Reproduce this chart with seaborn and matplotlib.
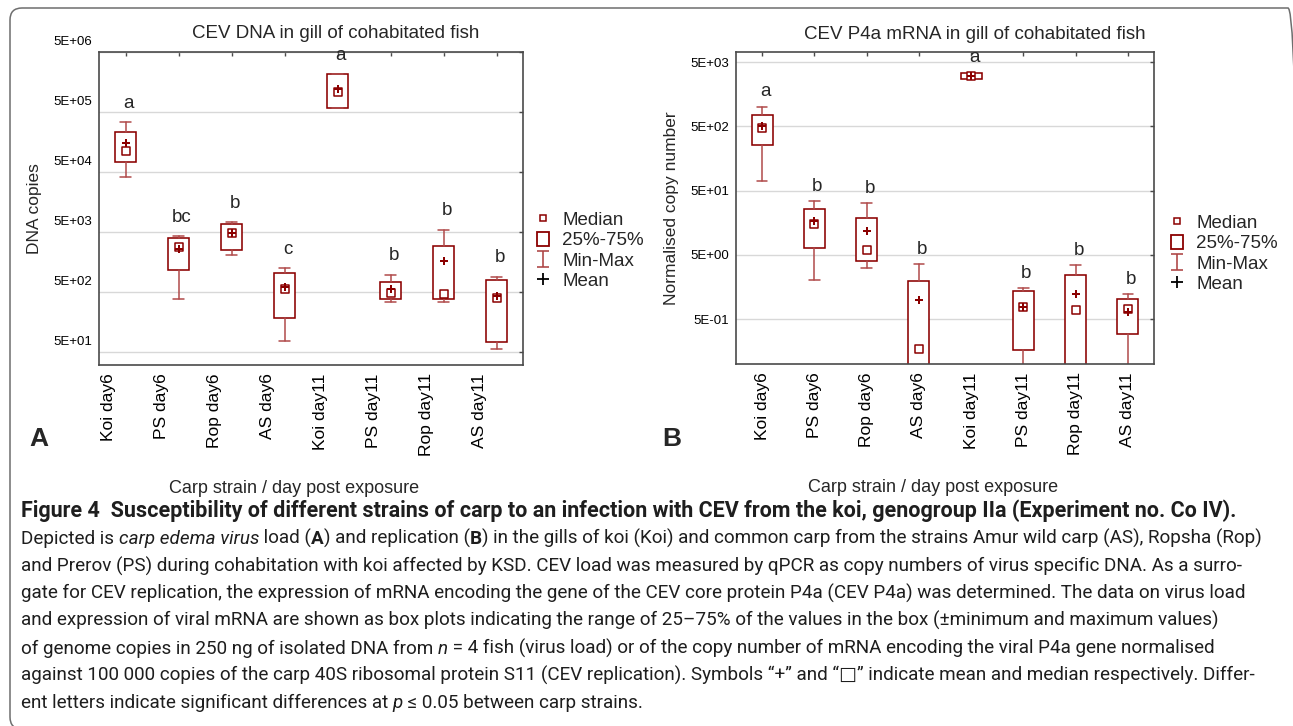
import numpy as np
import pandas as pd
import matplotlib
matplotlib.use('Agg')
import matplotlib.pyplot as plt
import matplotlib.transforms as mtransforms
import seaborn as sns
from matplotlib.lines import Line2D
from matplotlib.patches import Rectangle, FancyBboxPatch
from matplotlib.path import Path
from matplotlib import font_manager

# data
categories = ['Koi day6', 'PS day6', 'Rop day6', 'AS day6',
              'Koi day11', 'PS day11', 'Rop day11', 'AS day11']

# A: CEV DNA copies
dna_min = [4.2e4, 382, 2.1e3, 75, 5.76e5, 345, 345, 57]
dna_q1 = [7.3e4, 1.16e3, 2.54e3, 187, 5.76e5, 382, 382, 74]
dna_med = [1.1e5, 2.81e3, 4.75e3, 553, 1.06e6, 475, 463, 397]
dna_mean = [1.5e5, 2.6e3, 4.75e3, 614, 1.21e6, 561, 1.66e3, 434]
dna_q3 = [2.29e5, 3.97e3, 6.7e3, 1.02e3, 2.12e6, 724, 2.96e3, 782]
dna_max = [3.37e5, 4.24e3, 7.2e3, 1.24e3, 2.12e6, 972, 5.47e3, 902]
dna_letters = ['a', 'bc', 'b', 'c', 'a', 'b', 'b', 'b']

# B: CEV P4a mRNA, normalised copy number
mrna_min = [70.7, 2.05, 3.12, 0.05, 2750, 0.05, 0.05, 0.05]
mrna_q1 = [258, 6.4, 3.96, 0.08, 2750, 0.168, 0.08, 0.29]
mrna_med = [468, 14.9, 5.9, 0.17, 3100, 0.78, 0.69, 0.716]
mrna_mean = [515, 16.8, 11.75, 0.99, 3100, 0.78, 1.23, 0.65]
mrna_q3 = [764, 26.2, 19, 1.95, 3450, 1.35, 2.4, 1.01]
mrna_max = [1018, 34.1, 31.8, 3.6, 3450, 1.5, 3.47, 1.21]
mrna_letters = ['a', 'b', 'b', 'b', 'a', 'b', 'b', 'b']

legend_labels = ['Median', '25%-75%', 'Min-Max', 'Mean']

caption_title = ('Figure 4  Susceptibility of different strains of carp to an infection '
                 'with CEV from the koi, genogroup IIa (Experiment no. Co IV).')
caption_lines = [
    [('Depicted is ', ''), ('carp edema virus', 'i'), (' load (', ''), ('A', 'b'),
     (') and replication (', ''), ('B', 'b'),
     (') in the gills of koi (Koi) and common carp from the strains Amur wild carp (AS), Ropsha (Rop)', '')],
    [('and Prerov (PS) during cohabitation with koi affected by KSD. CEV load was measured by qPCR '
      'as copy numbers of virus specific DNA. As a surro-', '')],
    [('gate for CEV replication, the expression of mRNA encoding the gene of the CEV core protein P4a '
      '(CEV P4a) was determined. The data on virus load', '')],
    [('and expression of viral mRNA are shown as box plots indicating the range of 25\u201375% of the '
      'values in the box (\u00b1minimum and maximum values)', '')],
    [('of genome copies in 250 ng of isolated DNA from ', ''), ('n', 'i'),
     (' = 4 fish (virus load) or of the copy number of mRNA encoding the viral P4a gene normalised', '')],
    [('against 100 000 copies of the carp 40S ribosomal protein S11 (CEV replication). Symbols '
      '\u201c+\u201d and \u201c\u25a1\u201d indicate mean and median respectively. Differ-', '')],
    [('ent letters indicate significant differences at ', ''), ('p', 'i'),
     (' \u2264 0.05 between carp strains.', '')],
]

sns.set_style('white')
plt.rcParams['font.family'] = ['Liberation Sans', 'DejaVu Sans']
names = {f.name for f in font_manager.fontManager.ttflist}
cap_font = 'DejaVu Sans'
for cand in ['Liberation Sans Narrow', 'Roboto', 'Lato', 'Open Sans']:
    if cand in names:
        cap_font = cand
        break

W, H = 1293, 726
fig = plt.figure(figsize=(W / 100, H / 100), dpi=100)


def fx(px):
    return px / W


def fy(py):
    return 1 - py / H


DARK = '#8b0000'
WHISK = '#b04a4a'
SPINE = '#4a4a4a'

ipath = Path([(-0.75, 1), (0.75, 1), (0, 1), (0, -1), (-0.75, -1), (0.75, -1)],
             [Path.MOVETO, Path.LINETO, Path.MOVETO, Path.LINETO, Path.MOVETO, Path.LINETO])


def draw_panel(ax, mins, q1s, meds, means, q3s, maxs, letters, ylim, exps, letter_off,
               title, title_x, ylabel, ylabel_x, xlabel_x, leg_xy):
    n = len(categories)
    stats = [dict(whislo=a, q1=b, med=c, mean=d, q3=e, whishi=f, fliers=[])
             for a, b, c, d, e, f in zip(mins, q1s, meds, means, q3s, maxs)]
    ax.set_yscale('log')
    ax.bxp(stats, positions=range(n), widths=0.4, capwidths=0.2, showfliers=False,
           patch_artist=True, zorder=2,
           boxprops=dict(facecolor='white', edgecolor=DARK, linewidth=1.15),
           whiskerprops=dict(color=WHISK, linewidth=1.1),
           capprops=dict(color=WHISK, linewidth=1.1),
           medianprops=dict(visible=False))
    df = pd.DataFrame({'pos': np.arange(n), 'med': meds, 'mean': means})
    sns.scatterplot(data=df, x='pos', y='med', marker='s', s=26, color='white',
                    edgecolor=DARK, linewidth=1.1, ax=ax, zorder=4)
    sns.scatterplot(data=df, x='pos', y='mean', marker='P', s=40, color=DARK,
                    linewidth=0, ax=ax, zorder=5)
    for i, (lab, top) in enumerate(zip(letters, maxs)):
        ax.annotate(lab, (i, top), xytext=(3, letter_off), textcoords='offset pixels',
                    ha='center', va='center', fontsize=13.5)

    ax.set_xlim(-0.5, n - 0.5)
    ax.set_ylim(*ylim)
    ticks = [5 * 10.0 ** k for k in exps]
    ax.set_yticks(ticks)
    ax.set_yticklabels([f'{t:.0E}' for t in ticks])
    ax.yaxis.set_minor_locator(matplotlib.ticker.NullLocator())
    ax.set_xticks(range(n))
    ax.set_xticklabels(categories, rotation=90, fontsize=12.5)
    ax.set_xlabel('')
    ax.set_ylabel('')
    ax.grid(axis='y', color='#d8d8d8', linewidth=1)
    ax.grid(axis='x', visible=False)
    ax.set_axisbelow(True)
    ax.tick_params(axis='both', direction='in', length=3, width=1, top=True, right=True,
                   color=SPINE, labelcolor='black')
    ax.tick_params(axis='y', labelsize=9.5, pad=5)
    ax.tick_params(axis='x', pad=6)
    for s in ax.spines.values():
        s.set_color(SPINE)
        s.set_linewidth(1.2)

    ax.text(title_x, 1 + 18 / 313, title, transform=ax.transAxes, ha='center', va='center',
            fontsize=13.5)
    ax.text(ylabel_x, 0.5, ylabel, transform=ax.transAxes, rotation=90, ha='center',
            va='center', fontsize=12.5)
    ax.text(xlabel_x, -0.395, 'Carp strain / day post exposure', transform=ax.transAxes,
            ha='center', va='center', fontsize=13)

    handles = [Line2D([], [], ls='none', marker='s', ms=5, mfc='white', mec=DARK, mew=1.1),
               Rectangle((0, 0), 1, 1, facecolor='white', edgecolor=DARK, lw=1.3),
               Line2D([], [], ls='none', marker=ipath, ms=11.5, mec=WHISK, mfc='none', mew=1.2),
               Line2D([], [], ls='none', marker='+', ms=9, mec='black', mew=1.3)]
    ax.legend(handles, legend_labels, loc='upper left', bbox_to_anchor=(fx(leg_xy[0]), fy(leg_xy[1])),
              bbox_transform=fig.transFigure, frameon=False, fontsize=13.5, handlelength=0.65,
              handleheight=0.8, handletextpad=0.7, labelspacing=0.15, borderpad=0,
              borderaxespad=0)


axA = fig.add_axes([fx(99), fy(365), (523 - 99) / W, (365 - 52) / H])
axB = fig.add_axes([fx(736), fy(364), (1154 - 736) / W, (364 - 52) / H])

draw_panel(axA, dna_min, dna_q1, dna_med, dna_mean, dna_q3, dna_max, dna_letters,
           (30.3, 5e6), range(1, 7), 19, 'CEV DNA in gill of cohabitated fish', 0.558,
           'DNA copies', -0.152, 0.459, (537, 211))
draw_panel(axB, mrna_min, mrna_q1, mrna_med, mrna_mean, mrna_q3, mrna_max, mrna_letters,
           (0.1, 7.2e3), range(-1, 4), 15, 'CEV P4a mRNA in gill of cohabitated fish', 0.571,
           'Normalised copy number', -0.1555, 0.471, (1171, 214))

# panel A tick labels sit offset from their ticks in the original
up = mtransforms.ScaledTranslation(0, 11.5 / 100, fig.dpi_scale_trans)
left = mtransforms.ScaledTranslation(-17 / 100, 0, fig.dpi_scale_trans)
for lab in axA.get_yticklabels():
    lab.set_transform(lab.get_transform() + up)
for lab in axA.get_xticklabels():
    lab.set_transform(lab.get_transform() + left)

fig.text(fx(39), fy(439), 'A', fontsize=19, fontweight='bold', ha='center', va='center')
fig.text(fx(672), fy(439), 'B', fontsize=19, fontweight='bold', ha='center', va='center')

# rounded frame, right and bottom edges run just off the image
frame = FancyBboxPatch((10, -3), 1290, 721, boxstyle='round,pad=0,rounding_size=12',
                       transform=mtransforms.IdentityTransform(), facecolor='none',
                       edgecolor='#6e6e6e', linewidth=1.1)
fig.patches.append(frame)

# caption
renderer = fig.canvas.get_renderer()


def piece_kw(style, size):
    return dict(fontsize=size, family=[cap_font, 'DejaVu Sans'],
                fontweight='bold' if 'b' in style else 'normal',
                fontstyle='italic' if 'i' in style else 'normal', color='#1e1e1e')


def text_width(txt, kw):
    t1 = fig.text(0, 0, txt + '|', **kw)
    t2 = fig.text(0, 0, '|', **kw)
    w = t1.get_window_extent(renderer).width - t2.get_window_extent(renderer).width
    t1.remove()
    t2.remove()
    return w


def draw_line(x, y, pieces, size):
    for txt, style in pieces:
        kw = piece_kw(style, size)
        fig.text(fx(x), fy(y), txt, ha='left', va='baseline', **kw)
        x += text_width(txt, kw)


w0 = sum(text_width(t, piece_kw(s, 10)) for t, s in caption_lines[0])
cap_size = 10 * 1244 / w0
wt = text_width(caption_title, piece_kw('b', 10))
title_size = 10 * 1220 / wt

draw_line(21, 517, [(caption_title, 'b')], title_size)
for i, line in enumerate(caption_lines):
    draw_line(21, 544 + 27.4 * i, line, cap_size)

fig.savefig('out.png', dpi=100)
